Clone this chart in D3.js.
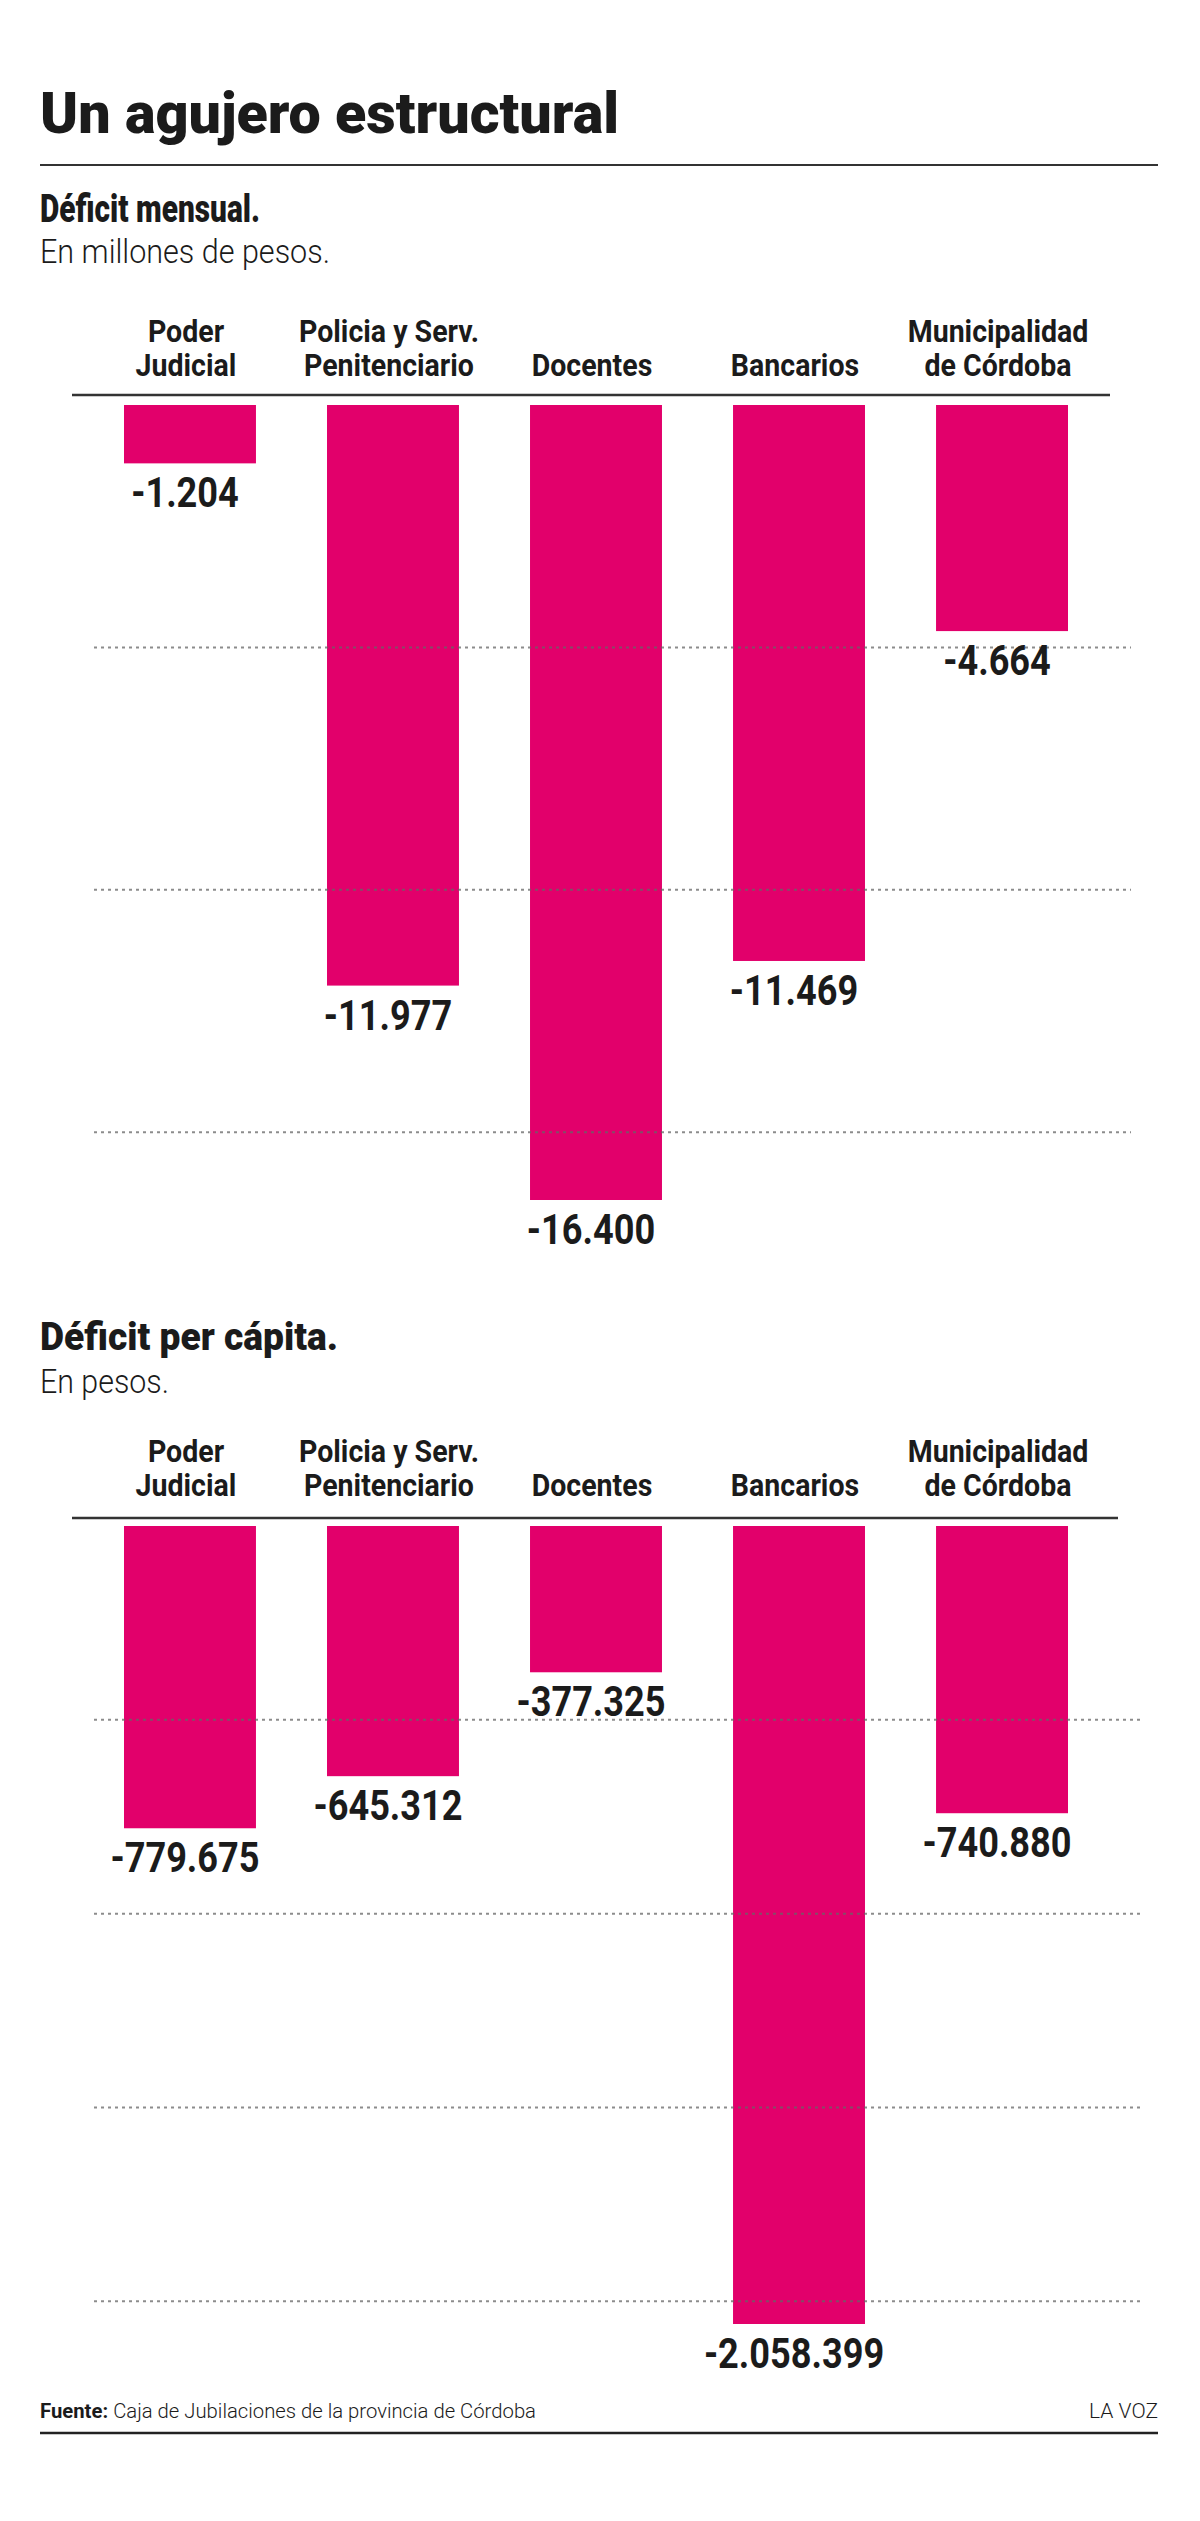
<!DOCTYPE html>
<html><head><meta http-equiv="Content-Type" content="text/html; charset=UTF-8">
<script src="https://cdn.jsdelivr.net/npm/d3@7"></script>
<style>
  body { margin: 0; background: #fff; }
  svg text { font-family: Roboto, "DejaVu Sans", sans-serif; fill: #1b1b1b; }
</style>
</head>
<body>
<div id="body"></div>
<script type="text/javascript">

// data
var categories = ["Poder Judicial", "Policia y Serv. Penitenciario", "Docentes", "Bancarios", "Municipalidad de Córdoba"];
var categoryLines = [["Poder", "Judicial"], ["Policia y Serv.", "Penitenciario"], ["Docentes"], ["Bancarios"], ["Municipalidad", "de Córdoba"]];
var deficitMensual = [-1204, -11977, -16400, -11469, -4664];      // millones de pesos
var deficitPerCapita = [-779675, -645312, -377325, -2058399, -740880]; // pesos
var gridMensual = [-5000, -10000, -15000];
var gridPerCapita = [-500000, -1000000, -1500000, -2000000];

var w = 1200, h = 2521,
    left = 40, right = 1158,
    barColor = "#e2006b";

var loc = d3.formatLocale({decimal: ",", thousands: ".", grouping: [3], currency: ["$", ""], minus: "-"});
var fmt = loc.format(",d");

var svg = d3.select("#body").append("svg")
    .attr("width", w)
    .attr("height", h);

svg.append("rect").attr("width", w).attr("height", h).attr("fill", "#fff");

// squeeze a text to a given width (reference font is condensed)
function fit(t, width) {
    t.attr("textLength", width).attr("lengthAdjust", "spacingAndGlyphs");
    return t;
}
// squeeze by a factor of its own width
function squeeze(sel, k) {
    sel.each(function() {
        this.setAttribute("textLength", this.getComputedTextLength() * k);
        this.setAttribute("lengthAdjust", "spacingAndGlyphs");
    });
}

fit(svg.append("text")
    .attr("x", left).attr("y", 133)
    .style("font-size", "57px").style("font-weight", 900)
    .text("Un agujero estructural"), 579);

svg.append("line")
    .attr("x1", left).attr("x2", right)
    .attr("y1", 165).attr("y2", 165)
    .attr("stroke", "#333").attr("stroke-width", 2);

var x = d3.scaleBand()
    .domain(categories)
    .range([124, 1068])
    .paddingInner(0.35);

function panel(p) {
    fit(svg.append("text")
        .attr("x", left).attr("y", p.titleY)
        .style("font-size", "39px").style("font-weight", 900)
        .text(p.title), p.titleW);
    fit(svg.append("text")
        .attr("x", left).attr("y", p.subY)
        .style("font-size", "33px").style("font-weight", 300)
        .text(p.sub), p.subW);

    var y = d3.scaleLinear()
        .domain([0, d3.min(p.values)])
        .range([p.top, p.bottom]);

    // category labels, bottom line aligned
    var g = svg.append("g");
    categoryLines.forEach(function(lines, i) {
        lines.forEach(function(s, j) {
            g.append("text")
                .attr("x", x(categories[i]) + x.bandwidth() / 2 - 4)
                .attr("y", p.labelY - (lines.length - 1 - j) * 34)
                .attr("text-anchor", "middle")
                .style("font-size", "31px").style("font-weight", 700)
                .text(s);
        });
    });
    squeeze(g.selectAll("text"), 0.92);

    svg.append("line")
        .attr("x1", 72).attr("x2", p.axisX2)
        .attr("y1", p.axisY).attr("y2", p.axisY)
        .attr("stroke", "#333").attr("stroke-width", 2.5);

    svg.append("g").selectAll("rect")
        .data(p.values)
        .enter().append("rect")
        .attr("x", function(d, i) { return x(categories[i]); })
        .attr("y", y(0))
        .attr("width", x.bandwidth())
        .attr("height", function(d) { return y(d) - y(0); })
        .attr("fill", barColor);

    svg.append("g").selectAll("line")
        .data(p.grid)
        .enter().append("line")
        .attr("x1", 94).attr("x2", p.gridX2)
        .attr("y1", function(d) { return y(d); })
        .attr("y2", function(d) { return y(d); })
        .attr("stroke", "#666").attr("stroke-opacity", 0.75)
        .attr("stroke-width", 2)
        .attr("stroke-dasharray", "3,4");

    var vals = svg.append("g").selectAll("text")
        .data(p.values)
        .enter().append("text")
        .attr("x", function(d, i) { return x(categories[i]) + x.bandwidth() / 2 - 5; })
        .attr("y", function(d) { return y(d) + 44; })
        .attr("text-anchor", "middle")
        .style("font-size", "42px").style("font-weight", 700)
        .text(function(d) { return fmt(d); });
    squeeze(vals, 0.86);
}

panel({
    title: "Déficit mensual.", titleY: 222, titleW: 220,
    sub: "En millones de pesos.", subY: 263, subW: 290,
    labelY: 376, axisY: 395, axisX2: 1110,
    top: 405, bottom: 1200,
    values: deficitMensual, grid: gridMensual, gridX2: 1131
});

panel({
    title: "Déficit per cápita.", titleY: 1350, titleW: 298,
    sub: "En pesos.", subY: 1393, subW: 129,
    labelY: 1496, axisY: 1518, axisX2: 1118,
    top: 1526, bottom: 2324,
    values: deficitPerCapita, grid: gridPerCapita, gridX2: 1140
});

// footer
var foot = svg.append("text")
    .attr("x", left).attr("y", 2418)
    .style("font-size", "21px");
foot.append("tspan").style("font-weight", 700).text("Fuente: ");
foot.append("tspan").style("font-weight", 300).text("Caja de Jubilaciones de la provincia de Córdoba");
fit(foot, 496);

svg.append("text")
    .attr("x", right).attr("y", 2418)
    .attr("text-anchor", "end")
    .style("font-size", "21px").style("font-weight", 300)
    .text("LA VOZ");

svg.append("line")
    .attr("x1", left).attr("x2", right)
    .attr("y1", 2433).attr("y2", 2433)
    .attr("stroke", "#222").attr("stroke-width", 2.5);

</script>
</body></html>
